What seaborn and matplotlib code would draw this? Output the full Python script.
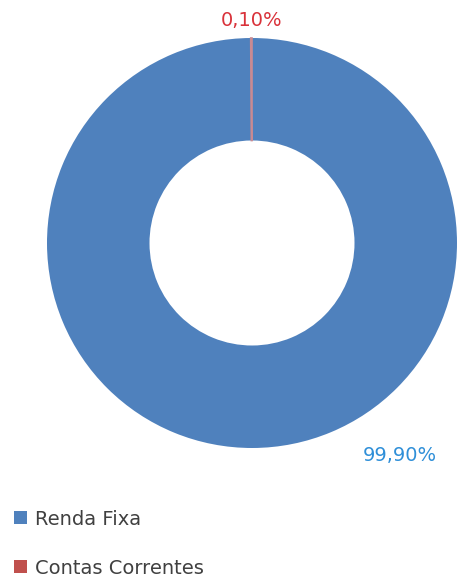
import matplotlib
matplotlib.use("Agg")
from matplotlib import pyplot as plt
from matplotlib.patches import Patch
import seaborn as sns

# data
categories = ["Renda Fixa", "Contas Correntes"]
values = [99.90, 0.10]
labels = ["99,90%", "0,10%"]

sns.set_theme(style="white")
plt.rcParams['font.family'] = ['DejaVu Sans']

colors = ["#4F81BD", "#C0504D"]
label_colors = ["#2F8FD8", "#D9323A"]

fig = plt.figure(figsize=(4.6, 5.79), dpi=100)
ax = fig.add_axes([47 / 460, (579 - 448) / 579, 410 / 460, 410 / 579])
wedges, _ = ax.pie(values, colors=colors, startangle=90, counterclock=False,
                   radius=1.0, wedgeprops=dict(width=0.5, linewidth=0))
# make the tiny slice visible like in the original
wedges[1].set_edgecolor("#C98A92")
wedges[1].set_linewidth(1.2)
ax.set_xlim(-1, 1)
ax.set_ylim(-1, 1)
ax.set_aspect("equal")
ax.axis("off")

# data labels
ax.text(0.72, -1.035, labels[0], color=label_colors[0], fontsize=14,
        ha="center", va="center", clip_on=False)
ax.text(0.0, 1.085, labels[1], color=label_colors[1], fontsize=14,
        ha="center", va="center", clip_on=False)

# legend
handles = [Patch(facecolor=c, edgecolor="none") for c in colors]
fig.legend(handles, categories, loc="upper left", bbox_to_anchor=(0.005, 0.14),
           frameon=False, fontsize=14, labelcolor="#404040",
           handlelength=0.65, handleheight=0.65, handletextpad=0.45,
           labelspacing=1.55, borderaxespad=0.2)

fig.savefig("out.png", dpi=100)
